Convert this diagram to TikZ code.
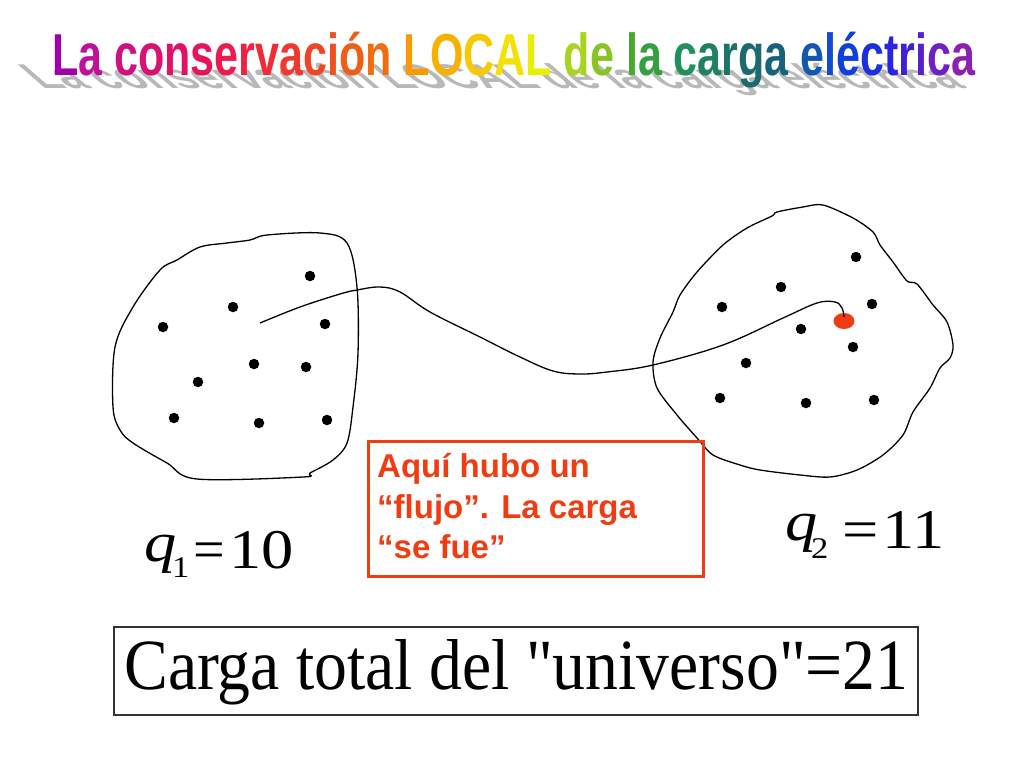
\documentclass[tikz,border=0pt]{standalone}
\usepackage{fontspec}
\setmainfont{Liberation Serif}
\newfontfamily\titlefont{Liberation Sans}
\newfontfamily\totfont{Liberation Serif}[Ligatures=TeXOff]
\usetikzlibrary{shapes.geometric}
\definecolor{boxred}{HTML}{F03C10}
\definecolor{shadowgray}{HTML}{B8B8B8}
\newcommand{\tl}[2]{\textcolor[HTML]{#1}{#2}}
\newcommand{\titletext}{%
\tl{A000A8}{L}\tl{C0109A}{a} %
\tl{D0107E}{c}\tl{DA1072}{o}\tl{E21066}{n}\tl{E8145A}{s}\tl{EC1A4E}{e}\tl{F02244}{r}\tl{F02C38}{v}\tl{F0382C}{a}\tl{F04424}{c}\tl{F0501C}{i}\tl{F05E16}{ó}\tl{F26C12}{n} %
\tl{F89A00}{L}\tl{F8B000}{O}\tl{F8C800}{C}\tl{F6E000}{A}\tl{E6F000}{L} %
\tl{A8D420}{d}\tl{88C424}{e} %
\tl{48A830}{l}\tl{34A040}{a} %
\tl{22905A}{c}\tl{1E8262}{a}\tl{1C7468}{r}\tl{1A6A70}{g}\tl{18627E}{a} %
\tl{1058B4}{e}\tl{104CCC}{l}\tl{1040DC}{é}\tl{1C30E0}{c}\tl{2A24E0}{t}\tl{3C20DC}{r}\tl{5820D0}{i}\tl{6E20C4}{c}\tl{8E20B0}{a}}
\newcommand{\titlegray}{La conservación LOCAL de la carga eléctrica}
\newcommand{\wide}[1]{\scalebox{1.15}[1]{#1}}
\tikzset{
  blob/.style={draw=black, line width=1.3pt, line join=round},
  dotnode/.style={circle, fill=black, inner sep=0pt, minimum size=10.5pt},
  flow/.style={draw=black, line width=1.3pt},
  note/.style={text=boxred, inner sep=0pt, font=\titlefont\bfseries\fontsize{33}{40.5}\selectfont},
  eqn/.style={inner sep=0pt, font=\fontsize{56}{60}\selectfont},
  eqsub/.style={inner sep=0pt, font=\fontsize{30}{32}\selectfont}
}
\begin{document}
\begin{tikzpicture}[x=1pt,y=-1pt]
\useasboundingbox (0,0) rectangle (1024,768);
\fill[white] (0,0) rectangle (1024,768);
% title shadow
\node[inner sep=0pt, anchor=base west, text=shadowgray, xslant=-1.15, yscale=0.58, transform shape] (tshadow) at (42,88) {\resizebox{925pt}{43.4pt}{\titlefont\bfseries\titlegray}};
% title
\node[inner sep=0pt, anchor=base west] (title) at (52,75) {\resizebox{923pt}{43.4pt}{\titlefont\bfseries\titletext}};
% left region
\draw[blob] plot[smooth cycle, tension=0.55] coordinates {(320,233) (347,243) (357,287) (358,353) (353,407) (347,443) (333,460) (310,473) (303,477) (197,479) (167,463) (133,443) (120,430) (113,407) (115,347) (133,307) (160,270) (177,260) (200,247) (227,243) (250,240) (267,235)};
% right region
\draw[blob] plot[smooth cycle, tension=0.5] coordinates {(777,212) (803,207) (823,205) (853,218) (873,232) (880,245) (893,262) (907,281) (917,284) (933,305) (947,322) (953,345) (950,358) (940,368) (930,388) (913,412) (903,435) (883,455) (857,470) (830,477) (800,475) (760,470) (740,465) (713,455) (697,438) (677,415) (657,388) (653,362) (660,338) (673,312) (680,295) (697,272) (723,245) (747,228) (772,216)};
% charges left
\foreach \n/\px/\py in {a1/310/276, a2/233/307, a3/163/327, a4/325/324, a5/254/364, a6/306/367, a7/198/382, a8/174/418, a9/259/423, a10/327/420}
  \node[dotnode] (\n) at (\px,\py) {};
% charges right
\foreach \n/\px/\py in {b1/856/257, b2/781/287, b3/722/307, b4/872/304, b5/801/329, b6/853/347, b7/746/363, b8/720/398, b9/806/403, b10/874/400}
  \node[dotnode] (\n) at (\px,\py) {};
% moved charge
\node[ellipse, fill=boxred, inner sep=0pt, minimum width=21pt, minimum height=16pt] (rd) at (844,321) {};
\coordinate (start) at (260,323);
\coordinate (rdtop) at (844,317);
\draw[flow] plot[smooth, tension=0.6] coordinates {(start) (300,307) (340,294) (357,290) (380,287) (400,292) (430,312) (480,337) (520,357) (553,371) (580,374) (607,372) (653,365) (723,345) (783,318) (817,303) (835,302) (842,308) (rdtop)};
% note
\node[draw=boxred, line width=3pt, inner sep=0pt, minimum width=335pt, minimum height=135pt, anchor=north west] (notebox) at (367,440) {};
\node[note, anchor=base west] (note1) at (377,477) {Aquí hubo un};
\node[note, anchor=base west] (note2) at (377,518) {“flujo”. La carga};
\node[note, anchor=base west] (note3) at (377,558) {“se fue”};
% q1 = 10
\node[eqn, anchor=base west] (q1q) at (144,561) {\wide{\itshape q}};
\node[eqsub, anchor=base west] (q1s) at (172,577) {\wide{1}};
\node[eqn, anchor=base west] (q1e) at (193,568) {=};
\node[eqn, anchor=base west] (q1v) at (229,568) {\wide{10}};
% q2 = 11
\node[eqn, anchor=base west] (q2q) at (785,540) {\wide{\itshape q}};
\node[eqsub, anchor=base west] (q2s) at (811,558) {\wide{2}};
\node[eqn, anchor=base west] (q2e) at (842,548) {\wide{=}};
\node[eqn, anchor=base west] (q2v) at (882,548) {\wide{11}};
% total
\node[draw=black!80, line width=1.5pt, inner sep=0pt, minimum width=804pt, minimum height=88pt, anchor=north west] (totbox) at (113,626) {};
\node[inner sep=0pt, anchor=base west] (tot) at (124,689) {\resizebox{784pt}{50pt}{\totfont Carga total del "universo"=21}};
\end{tikzpicture}
\end{document}
